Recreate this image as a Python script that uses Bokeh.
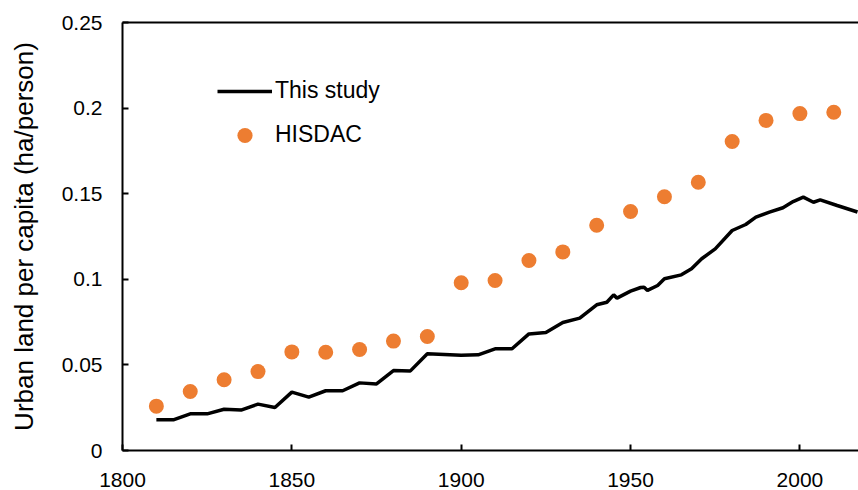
from bokeh.plotting import figure
from bokeh.models import Range1d, FixedTicker, LinearAxis, Legend, LegendItem
from bokeh.embed import file_html
from bokeh.resources import INLINE

# ---- data ----
study_years = [1810, 1815, 1820, 1825, 1830, 1835, 1840, 1845, 1850, 1855,
               1860, 1865, 1870, 1875, 1880, 1885, 1890, 1900, 1905, 1910,
               1915, 1920, 1925, 1930, 1935, 1940, 1943, 1945, 1946, 1950,
               1953, 1954, 1955, 1958, 1960, 1965, 1968, 1971, 1975, 1980,
               1984, 1987, 1991, 1995, 1998, 2001, 2004, 2006, 2011, 2017]
study_values = [0.0179, 0.0179, 0.0214, 0.0214, 0.0241, 0.0236, 0.0271, 0.0251, 0.0341, 0.0312,
                0.0349, 0.0349, 0.0395, 0.0389, 0.0467, 0.0465, 0.0565, 0.0556, 0.0559, 0.0594,
                0.0594, 0.0681, 0.0689, 0.0748, 0.0773, 0.0851, 0.0866, 0.0909, 0.0890, 0.0931,
                0.0952, 0.0954, 0.0935, 0.0964, 0.1003, 0.1026, 0.1061, 0.1120, 0.1178, 0.1285,
                0.1320, 0.1363, 0.1392, 0.1418, 0.1454, 0.1480, 0.1450, 0.1464, 0.1431, 0.1393]

hisdac_years = [1810, 1820, 1830, 1840, 1850, 1860, 1870, 1880, 1890, 1900,
                1910, 1920, 1930, 1940, 1950, 1960, 1970, 1980, 1990, 2000, 2010]
hisdac_values = [0.0259, 0.0345, 0.0413, 0.0461, 0.0576, 0.0574, 0.0590, 0.0639, 0.0666, 0.0980,
                 0.0993, 0.1110, 0.1160, 0.1316, 0.1396, 0.1482, 0.1567, 0.1805, 0.1928, 0.1968, 0.1976]

x_ticks = [1800, 1850, 1900, 1950, 2000]
y_ticks = [0, 0.05, 0.1, 0.15, 0.2, 0.25]
y_tick_labels = ["0", "0.05", "0.1", "0.15", "0.2", "0.25"]
y_title = "Urban land per capita (ha/person)"

FONT = "Liberation Sans"
ORANGE = "#ED7D31"

p = figure(width=858, height=490, output_backend="svg", toolbar_location=None,
           x_range=Range1d(1800, 2017.3), y_range=Range1d(0, 0.25),
           min_border_left=122, min_border_right=0, min_border_top=22, min_border_bottom=40)

p.background_fill_color = "white"
p.border_fill_color = "white"
p.outline_line_color = None
p.xgrid.visible = False
p.ygrid.visible = False

xa = p.below[0]
xa.ticker = FixedTicker(ticks=x_ticks)
ya = p.left[0]
ya.ticker = FixedTicker(ticks=y_ticks)
ya.major_label_overrides = {t: l for t, l in zip(y_ticks, y_tick_labels)}
ya.axis_label = y_title
ya.axis_label_text_font = FONT
ya.axis_label_text_font_size = "26px"
ya.axis_label_text_font_style = "normal"
ya.axis_label_text_color = "black"
ya.axis_label_standoff = 20

for ax in (xa, ya):
    ax.axis_line_color = "black"
    ax.axis_line_width = 2
    ax.major_tick_line_color = "black"
    ax.major_tick_line_width = 2
    ax.major_tick_in = 6
    ax.major_tick_out = 0
    ax.minor_tick_line_color = None
    ax.major_label_text_font = FONT
    ax.major_label_text_font_size = "21px"
    ax.major_label_text_color = "black"
ya.major_label_standoff = 20
xa.major_label_standoff = 22

top = LinearAxis(ticker=FixedTicker(ticks=[]), axis_line_color="black", axis_line_width=2,
                 major_tick_line_color=None, minor_tick_line_color=None)
p.add_layout(top, "above")

r_line = p.line(study_years, study_values, line_color="black", line_width=3.5)
r_sc = p.scatter(hisdac_years, hisdac_values, size=15, fill_color=ORANGE, line_color=None)

legend = Legend(items=[LegendItem(label="This study", renderers=[r_line]),
                       LegendItem(label="HISDAC", renderers=[r_sc])],
                location=(95, 296.5), padding=0, margin=0, spacing=6,
                glyph_width=55, glyph_height=38, label_height=38, label_standoff=3,
                label_text_font=FONT, label_text_font_size="23px", label_text_color="black",
                background_fill_color=None, border_line_color=None)
p.add_layout(legend)

open("out.html", "w").write(file_html(p, INLINE))
